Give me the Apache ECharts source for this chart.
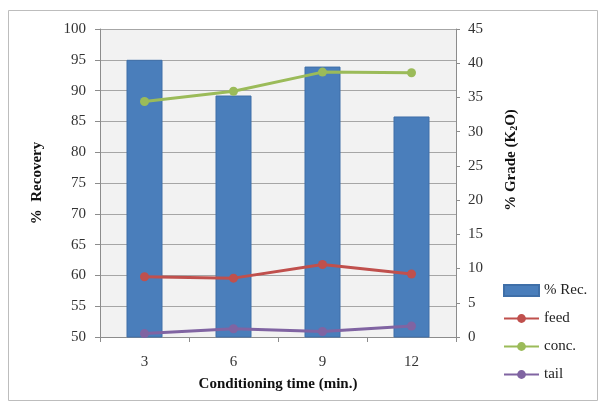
<!DOCTYPE html>
<html>
<head>
<meta charset="utf-8">
<script src="https://cdn.jsdelivr.net/npm/echarts@6/dist/echarts.min.js"></script>
<style>
  html, body { margin: 0; padding: 0; background: #fff; }
  #chart { width: 602px; height: 404px; }
</style>
</head>
<body>
<div id="chart"></div>
<script>
// Conditioning time (min.)
const categories = ['3', '6', '9', '12'];
// % Recovery (left axis)
const recovery = [95.0, 89.2, 93.9, 85.8];
// % Grade K2O (right axis)
const feed = [8.8, 8.6, 10.6, 9.2];
const conc = [34.4, 35.9, 38.7, 38.6];
const tail = [0.5, 1.2, 0.8, 1.6];

const serif = '"Liberation Serif", "Times New Roman", serif';
const chart = echarts.init(document.getElementById('chart'), null, { renderer: 'canvas' });

const lineSeries = (name, data, color) => ({
  name, type: 'line', yAxisIndex: 1, data,
  symbol: 'circle', symbolSize: 9,
  lineStyle: { color, width: 3 },
  itemStyle: { color },
  z: 3
});

chart.setOption({
  animation: false,
  backgroundColor: '#ffffff',
  textStyle: { fontFamily: serif },
  graphic: [{
    type: 'rect',
    shape: { x: 8.5, y: 10.5, width: 589, height: 390 },
    style: { fill: 'none', stroke: '#bdbdbd', lineWidth: 1 },
    silent: true, z: -10
  }],
  grid: {
    left: 100, right: 146, top: 29, bottom: 67,
    show: true, backgroundColor: '#f2f2f2', borderWidth: 0
  },
  legend: {
    orient: 'vertical', left: 503, top: 283, padding: 0,
    itemWidth: 35, itemHeight: 11, itemGap: 13,
    textStyle: { fontFamily: serif, fontSize: 15, color: '#222' },
    data: [
      { name: '% Rec.', icon: 'rect' },
      { name: 'feed' }, { name: 'conc.' }, { name: 'tail' }
    ]
  },
  xAxis: {
    type: 'category', data: categories,
    name: 'Conditioning time (min.)', nameLocation: 'middle', nameGap: 40,
    nameTextStyle: { fontFamily: serif, fontSize: 15, fontWeight: 'bold', color: '#111' },
    axisLine: { lineStyle: { color: '#8c8c8c' } },
    axisTick: { show: true, length: 5, lineStyle: { color: '#8c8c8c' } },
    axisLabel: { fontFamily: serif, fontSize: 15, color: '#333', margin: 18 }
  },
  yAxis: [{
    type: 'value', min: 50, max: 100, interval: 5, position: 'left',
    name: '%  Recovery', nameLocation: 'middle', nameGap: 55, nameRotate: 90,
    nameTextStyle: { fontFamily: serif, fontSize: 15, fontWeight: 'bold', color: '#111' },
    axisLine: { show: true, lineStyle: { color: '#8c8c8c' } },
    axisTick: { show: true, length: 5, lineStyle: { color: '#8c8c8c' } },
    axisLabel: { fontFamily: serif, fontSize: 15, color: '#333', margin: 14 },
    splitLine: { show: true, lineStyle: { color: '#a6a6a6', width: 1 } }
  }, {
    type: 'value', min: 0, max: 45, interval: 5, position: 'right',
    name: '{a|% Grade (K}{s|2}{a|O)}', nameLocation: 'middle', nameGap: 47, nameRotate: 90,
    nameTextStyle: {
      padding: [0, 0, 0, 46],
      rich: {
        a: { fontFamily: serif, fontSize: 15, fontWeight: 'bold', color: '#111' },
        s: { fontFamily: serif, fontSize: 10, fontWeight: 'bold', color: '#111', verticalAlign: 'bottom', padding: [6, 0, 0, 0] }
      }
    },
    axisLine: { show: true, lineStyle: { color: '#8c8c8c' } },
    axisTick: { show: true, length: 4, lineStyle: { color: '#8c8c8c' } },
    axisLabel: { fontFamily: serif, fontSize: 15, color: '#333', margin: 12 },
    splitLine: { show: false }
  }],
  series: [
    {
      name: '% Rec.', type: 'bar', yAxisIndex: 0, data: recovery,
      barWidth: 36,
      itemStyle: { color: '#4a7ebb', borderColor: '#3f6fa8', borderWidth: 1 },
      z: 2
    },
    lineSeries('feed', feed, '#c0504d'),
    lineSeries('conc.', conc, '#9bbb59'),
    lineSeries('tail', tail, '#8064a2')
  ]
});
</script>
</body>
</html>
